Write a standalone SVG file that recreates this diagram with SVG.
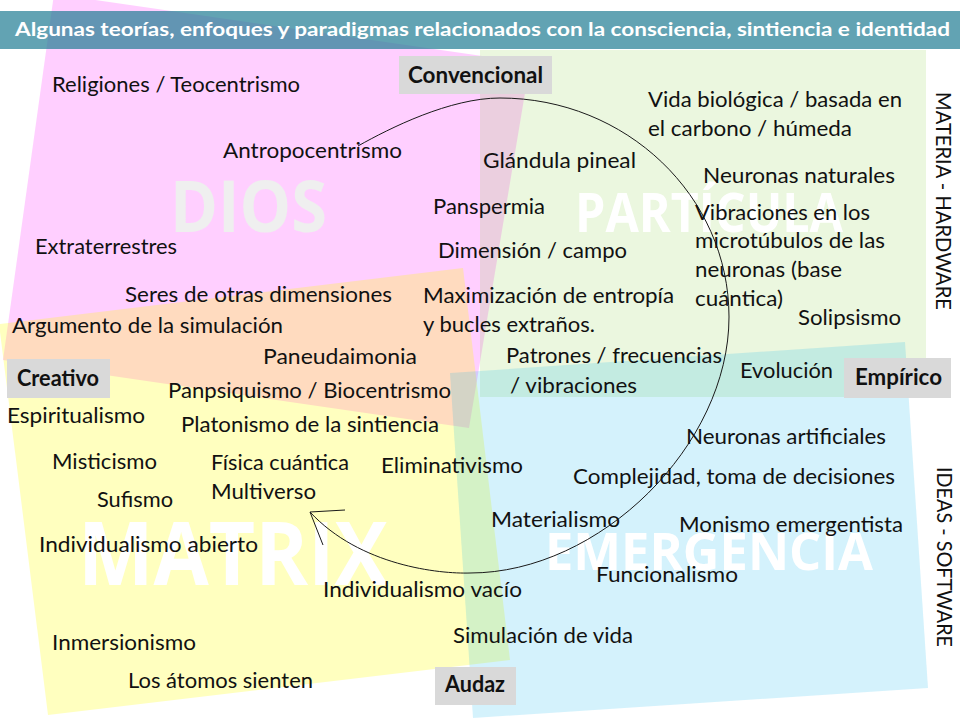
<svg xmlns="http://www.w3.org/2000/svg" width="960" height="720" viewBox="0 0 960 720">
<style>
.t{font-family:Lato,"Open Sans","Liberation Sans",sans-serif;font-size:22px;fill:#111}
.b{font-weight:bold}
.box{fill:#d9d9d9}
.wm{font-family:"Open Sans","Liberation Sans",sans-serif;font-weight:bold;fill:#ffffff}
.arc{fill:none;stroke:#1a1a1a;stroke-width:1}
.title{font-family:Lato,"Open Sans","Liberation Sans",sans-serif;font-weight:bold;font-size:19px;fill:#ffffff}
</style>
<rect width="960" height="720" fill="#ffffff"/>
<g id="zones">
<polygon id="zone-dios" points="54,-6 530,63 469,428 3,360" fill="#ff00ff" opacity="0.19"/>
<polygon id="zone-matrix" points="-1,324 463,268 510,660 48,715" fill="#ffff00" opacity="0.25"/>
<rect id="zone-particula" x="480" y="50" width="446" height="347" fill="#92d050" opacity="0.18"/>
<polygon id="zone-emergencia" points="450,373 905,342 928,688 473,718" fill="#00b0f0" opacity="0.17"/>
</g>
<g id="watermarks">
<text class="wm" x="170" y="232" font-size="72" textLength="157" lengthAdjust="spacingAndGlyphs" style="fill:#efefef">DIOS</text>
<text class="wm" x="575" y="232" font-size="54" textLength="268" lengthAdjust="spacingAndGlyphs">PARTÍCULA</text>
<text class="wm" x="78" y="585" font-size="87" textLength="310" lengthAdjust="spacingAndGlyphs">MATRIX</text>
<text class="wm" x="545" y="570" font-size="52" textLength="328" lengthAdjust="spacingAndGlyphs">EMERGENCIA</text>
</g>
<g id="title">
<rect x="0" y="11" width="960" height="38" fill="#227d94" opacity="0.71"/>
<text class="title" x="15" y="36" textLength="935" lengthAdjust="spacingAndGlyphs">Algunas teorías, enfoques y paradigmas relacionados con la consciencia, sintiencia e identidad</text>
</g>
<g id="connectors">
<path class="arc" d="M358,146 C390,128 450,98 500,98 C626,98 729,196 729,317 C729,445 600,573 470,573 C440,574 360,566 310,512"/>
<polyline class="arc" points="345,510 310,512 323,545"/>
</g>
<g id="axes">
<text class="t" transform="translate(936,92) rotate(90)" textLength="218" lengthAdjust="spacingAndGlyphs">MATERIA - HARDWARE</text>
<text class="t" transform="translate(937,467) rotate(90)" textLength="180" lengthAdjust="spacingAndGlyphs">IDEAS - SOFTWARE</text>
</g>
<g id="label-convencional"><rect class="box" x="399" y="56" width="153" height="38"/><text class="t b" x="408" y="83" textLength="135" lengthAdjust="spacingAndGlyphs">Convencional</text></g>
<g id="label-creativo"><rect class="box" x="7" y="359" width="103" height="39"/><text class="t b" x="17" y="386" textLength="82" lengthAdjust="spacingAndGlyphs">Creativo</text></g>
<g id="label-empirico"><rect class="box" x="844" y="358" width="107" height="40"/><text class="t b" x="855" y="385" textLength="87" lengthAdjust="spacingAndGlyphs">Empírico</text></g>
<g id="label-audaz"><rect class="box" x="435" y="667" width="81" height="38"/><text class="t b" x="445" y="692" textLength="60" lengthAdjust="spacingAndGlyphs">Audaz</text></g>
<g id="n-religiones"><text class="t" x="52" y="92" textLength="248" lengthAdjust="spacingAndGlyphs">Religiones / Teocentrismo</text></g>
<g id="n-antropocentrismo"><text class="t" x="223" y="158" textLength="179" lengthAdjust="spacingAndGlyphs">Antropocentrismo</text></g>
<g id="n-extraterrestres"><text class="t" x="35" y="254" textLength="142" lengthAdjust="spacingAndGlyphs">Extraterrestres</text></g>
<g id="n-seres"><text class="t" x="125" y="302" textLength="267" lengthAdjust="spacingAndGlyphs">Seres de otras dimensiones</text></g>
<g id="n-argumento"><text class="t" x="12" y="333" textLength="271" lengthAdjust="spacingAndGlyphs">Argumento de la simulación</text></g>
<g id="n-paneudaimonia"><text class="t" x="263" y="364" textLength="154" lengthAdjust="spacingAndGlyphs">Paneudaimonia</text></g>
<g id="n-panpsiquismo"><text class="t" x="168" y="398" textLength="283" lengthAdjust="spacingAndGlyphs">Panpsiquismo / Biocentrismo</text></g>
<g id="n-espiritualismo"><text class="t" x="7" y="423" textLength="138" lengthAdjust="spacingAndGlyphs">Espiritualismo</text></g>
<g id="n-platonismo"><text class="t" x="181" y="432" textLength="258" lengthAdjust="spacingAndGlyphs">Platonismo de la sintiencia</text></g>
<g id="n-misticismo"><text class="t" x="52" y="469" textLength="105" lengthAdjust="spacingAndGlyphs">Misticismo</text></g>
<g id="n-fisica"><text class="t" x="211" y="470" textLength="138" lengthAdjust="spacingAndGlyphs">Física cuántica</text><text class="t" x="211" y="499" textLength="105" lengthAdjust="spacingAndGlyphs">Multiverso</text></g>
<g id="n-sufismo"><text class="t" x="97" y="507" textLength="76" lengthAdjust="spacingAndGlyphs">Sufismo</text></g>
<g id="n-individualismo-abierto"><text class="t" x="39" y="552" textLength="219" lengthAdjust="spacingAndGlyphs">Individualismo abierto</text></g>
<g id="n-inmersionismo"><text class="t" x="52" y="650" textLength="144" lengthAdjust="spacingAndGlyphs">Inmersionismo</text></g>
<g id="n-atomos"><text class="t" x="128" y="688" textLength="185" lengthAdjust="spacingAndGlyphs">Los átomos sienten</text></g>
<g id="n-eliminativismo"><text class="t" x="381" y="473" textLength="142" lengthAdjust="spacingAndGlyphs">Eliminativismo</text></g>
<g id="n-individualismo-vacio"><text class="t" x="323" y="597" textLength="199" lengthAdjust="spacingAndGlyphs">Individualismo vacío</text></g>
<g id="n-glandula"><text class="t" x="483" y="168" textLength="153" lengthAdjust="spacingAndGlyphs">Glándula pineal</text></g>
<g id="n-panspermia"><text class="t" x="433" y="214" textLength="112" lengthAdjust="spacingAndGlyphs">Panspermia</text></g>
<g id="n-dimension"><text class="t" x="438" y="258" textLength="189" lengthAdjust="spacingAndGlyphs">Dimensión / campo</text></g>
<g id="n-maximizacion"><text class="t" x="423" y="303" textLength="251" lengthAdjust="spacingAndGlyphs">Maximización de entropía</text><text class="t" x="423" y="332" textLength="172" lengthAdjust="spacingAndGlyphs">y bucles extraños.</text></g>
<g id="n-vida"><text class="t" x="648" y="107" textLength="254" lengthAdjust="spacingAndGlyphs">Vida biológica / basada en</text><text class="t" x="648" y="136" textLength="204" lengthAdjust="spacingAndGlyphs">el carbono / húmeda</text></g>
<g id="n-neuronas-naturales"><text class="t" x="703" y="183" textLength="192" lengthAdjust="spacingAndGlyphs">Neuronas naturales</text></g>
<g id="n-vibraciones"><text class="t" x="695" y="220" textLength="175" lengthAdjust="spacingAndGlyphs">Vibraciones en los</text><text class="t" x="695" y="248" textLength="190" lengthAdjust="spacingAndGlyphs">microtúbulos de las</text><text class="t" x="695" y="277" textLength="147" lengthAdjust="spacingAndGlyphs">neuronas (base</text><text class="t" x="695" y="306" textLength="88" lengthAdjust="spacingAndGlyphs">cuántica)</text></g>
<g id="n-solipsismo"><text class="t" x="798" y="325" textLength="103" lengthAdjust="spacingAndGlyphs">Solipsismo</text></g>
<g id="n-patrones"><text class="t" x="506" y="363" textLength="216" lengthAdjust="spacingAndGlyphs">Patrones / frecuencias</text><text class="t" x="510" y="393" textLength="127" lengthAdjust="spacingAndGlyphs">/ vibraciones</text></g>
<g id="n-evolucion"><text class="t" x="740" y="378" textLength="93" lengthAdjust="spacingAndGlyphs">Evolución</text></g>
<g id="n-neuronas-artificiales"><text class="t" x="686" y="444" textLength="200" lengthAdjust="spacingAndGlyphs">Neuronas artificiales</text></g>
<g id="n-complejidad"><text class="t" x="573" y="484" textLength="322" lengthAdjust="spacingAndGlyphs">Complejidad, toma de decisiones</text></g>
<g id="n-materialismo"><text class="t" x="491" y="527" textLength="129" lengthAdjust="spacingAndGlyphs">Materialismo</text></g>
<g id="n-monismo"><text class="t" x="679" y="532" textLength="224" lengthAdjust="spacingAndGlyphs">Monismo emergentista</text></g>
<g id="n-funcionalismo"><text class="t" x="596" y="582" textLength="142" lengthAdjust="spacingAndGlyphs">Funcionalismo</text></g>
<g id="n-simulacion-vida"><text class="t" x="453" y="643" textLength="180" lengthAdjust="spacingAndGlyphs">Simulación de vida</text></g>
</svg>
